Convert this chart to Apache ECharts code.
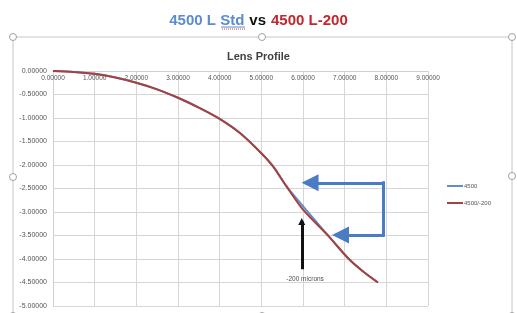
<!DOCTYPE html>
<html>
<head>
<meta charset="utf-8">
<script src="https://cdn.jsdelivr.net/npm/echarts@6/dist/echarts.min.js"></script>
<style>
  html, body { margin: 0; padding: 0; background: #fff; }
</style>
</head>
<body>
<div id="lensChart" style="width: 517px;height: 313px;"></div>
<script>
// values (x = radius, y = sag)
const stdX = [0, 0.5, 1, 1.5, 2, 2.5, 3, 3.5, 4, 4.5, 5, 5.3, 5.6, 6.62, 7.1, 7.45, 7.8];
const stdY = [0, -0.02, -0.06, -0.14, -0.25, -0.39, -0.57, -0.78, -1.02, -1.33, -1.75, -2.05, -2.45, -3.52, -4.0, -4.27, -4.5];
const l200X = [0, 0.5, 1, 1.5, 2, 2.5, 3, 3.5, 4, 4.5, 5, 5.3, 5.6, 6.0, 6.62, 7.1, 7.45, 7.8];
const l200Y = [0, -0.02, -0.06, -0.14, -0.25, -0.39, -0.57, -0.78, -1.02, -1.33, -1.75, -2.05, -2.45, -2.95, -3.52, -4.0, -4.27, -4.5];
const seriesNames = ['4500', '4500/-200'];

// annotations, in data units
const blueTop = [[7.92, -2.38], [6.17, -2.38]];
const blueSide = [[7.92, -2.38], [7.92, -3.49]];
const blueBottom = [[7.92, -3.49], [6.9, -3.49]];
const blackArrow = [[5.97, -4.22], [5.97, -3.2]];
const noteText = '-200 microns';
const notePos = [6.05, -4.44];

const toPairs = (xs, ys) => xs.map((x, i) => [x, ys[i]]);
const triangle = 'path://M5,0 L10,10 L0,10 Z';

const chart = echarts.init(document.getElementById('lensChart'));
let option;
option = {
  animation: false,
  title: [
    {
      text: '{b|4500 L Std} {k|vs} {r|4500 L-200}',
      left: 'center',
      top: 7,
      textStyle: {
        rich: {
          b: { color: '#5b8bd0', fontSize: 15, fontWeight: 'bold', fontFamily: 'Liberation Sans' },
          k: { color: '#111', fontSize: 15, fontWeight: 'bold', fontFamily: 'Liberation Sans' },
          r: { color: '#c1272d', fontSize: 15, fontWeight: 'bold', fontFamily: 'Liberation Sans' }
        }
      }
    },
    {
      text: 'Lens Profile',
      left: 'center',
      top: 46,
      textStyle: { color: '#404040', fontSize: 11, fontWeight: 'bold', fontFamily: 'Liberation Sans' }
    }
  ],
  graphic: [
    { type: 'rect', shape: { x: 13, y: 37, width: 499, height: 300 }, style: { fill: 'none', stroke: '#c6c6c6', lineWidth: 1 }, z: 0 },
    { type: 'line', shape: { x1: 221, y1: 27, x2: 245, y2: 27 }, style: { stroke: '#5b8bd0', lineWidth: 1 } },
    { type: 'line', shape: { x1: 222, y1: 29, x2: 245, y2: 29 }, style: { stroke: '#d04040', lineWidth: 1, lineDash: [1, 1] } },
    ...[[13, 37], [262, 37], [512, 37], [13, 177], [512, 176], [13, 316], [262, 316], [512, 316]].map(p => ({
      type: 'circle',
      shape: { cx: p[0], cy: p[1], r: 3.5 },
      style: { fill: '#fff', stroke: '#a0a0a0', lineWidth: 1 },
      z: 10
    }))
  ],
  legend: {
    data: seriesNames,
    orient: 'vertical',
    left: 442,
    top: 178,
    itemWidth: 16,
    itemHeight: 2,
    itemGap: 11,
    icon: 'rect',
    textStyle: { fontSize: 6, color: '#555', padding: [0, 0, 0, -4] }
  },
  grid: {
    left: 53,
    right: 89,
    top: 71,
    bottom: 7
  },
  xAxis: {
    type: 'value',
    position: 'top',
    min: 0,
    max: 9,
    interval: 1,
    axisLine: { lineStyle: { color: '#d0d0d0' } },
    axisTick: { show: false },
    axisLabel: {
      inside: true,
      margin: 4,
      fontSize: 6.5,
      color: '#555',
      formatter: v => v.toFixed(5)
    },
    splitLine: { lineStyle: { color: '#d6d6d6' } }
  },
  yAxis: {
    type: 'value',
    min: -5,
    max: 0,
    interval: 0.5,
    axisLine: { show: true, lineStyle: { color: '#d0d0d0' } },
    axisTick: { show: false },
    axisLabel: {
      margin: 6,
      fontSize: 7,
      color: '#555',
      formatter: v => v.toFixed(5)
    },
    splitLine: { lineStyle: { color: '#d6d6d6' } }
  },
  series: [
    {
      name: seriesNames[0],
      type: 'line',
      data: toPairs(stdX, stdY),
      smooth: 0.25,
      showSymbol: false,
      color: '#5f8fcb',
      lineStyle: { width: 2 }
    },
    {
      name: seriesNames[1],
      type: 'line',
      data: toPairs(l200X, l200Y),
      smooth: 0.25,
      showSymbol: false,
      color: '#a8403f',
      lineStyle: { width: 2 }
    },
    {
      type: 'lines',
      coordinateSystem: 'cartesian2d',
      symbol: ['none', triangle],
      symbolSize: [15, 17],
      lineStyle: { color: '#4a7cc4', width: 3, opacity: 1, cap: 'square' },
      data: [{ coords: blueTop }, { coords: blueBottom }],
      z: 5
    },
    {
      type: 'lines',
      coordinateSystem: 'cartesian2d',
      symbol: ['none', 'none'],
      lineStyle: { color: '#4a7cc4', width: 3, opacity: 1, cap: 'square' },
      data: [{ coords: blueSide }],
      z: 5
    },
    {
      type: 'lines',
      coordinateSystem: 'cartesian2d',
      symbol: ['none', triangle],
      symbolSize: 7,
      lineStyle: { color: '#111', width: 3, opacity: 1 },
      data: [{ coords: blackArrow }],
      z: 5
    },
    {
      type: 'scatter',
      symbolSize: 0,
      data: [notePos],
      label: {
        show: true,
        position: 'inside',
        formatter: noteText,
        fontSize: 6.5,
        color: '#222'
      },
      z: 6
    }
  ]
};
chart.setOption(option);
</script>
</body>
</html>
